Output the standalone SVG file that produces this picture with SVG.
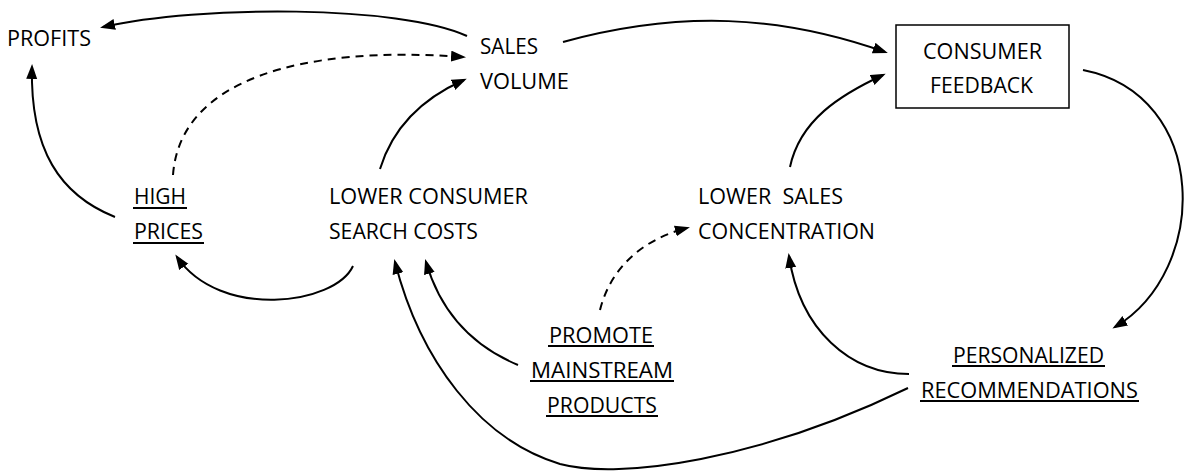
<svg xmlns="http://www.w3.org/2000/svg" width="1184" height="472" viewBox="0 0 1184 472">
<style>
text{font-family:"Open Sans","Liberation Sans",sans-serif;font-size:21.5px;fill:#000}
.c{fill:none;stroke:#000;stroke-width:2}
.d{stroke-dasharray:8,6}
.u{stroke:#000;stroke-width:1.8}
.box{fill:#fff;stroke:#000;stroke-width:1.5}
</style>
<defs>
<marker id="ah" markerUnits="userSpaceOnUse" markerWidth="16" markerHeight="12" refX="12" refY="5.5" orient="auto">
<path d="M0,0 L15,5.5 L0,11 z" fill="#000"/>
</marker>
</defs>
<rect width="1184" height="472" fill="#fff"/>
<g id="connectors">
<path class="c" d="M467,36 C400,5 200,5 103,27" marker-end="url(#ah)"/>
<path class="c" d="M115,217 C60,195 30,150 32,67" marker-end="url(#ah)"/>
<path class="c d" d="M173,175 C180,80 300,45 463,57" marker-end="url(#ah)"/>
<path class="c" d="M380,169 C395,120 430,95 464,80" marker-end="url(#ah)"/>
<path class="c" d="M563,42 C680,10 780,15 885,52" marker-end="url(#ah)"/>
<path class="c" d="M790,167 C800,120 840,95 883,75" marker-end="url(#ah)"/>
<path class="c" d="M1083,70 C1210,95 1210,270 1115,327" marker-end="url(#ah)"/>
<path class="c" d="M909,374 C850,374 800,330 789,256" marker-end="url(#ah)"/>
<path class="c" d="M908,388 C760,460 620,480 560,464 C480,440 420,360 395,262" marker-end="url(#ah)"/>
<path class="c" d="M518,365 C470,345 440,310 426,262" marker-end="url(#ah)"/>
<path class="c d" d="M600,310 C610,270 640,240 687,228" marker-end="url(#ah)"/>
<path class="c" d="M353,266 C335,305 220,320 177,257" marker-end="url(#ah)"/>
</g>
<g id="profits"><text x="7" y="46" textLength="84" lengthAdjust="spacingAndGlyphs">PROFITS</text></g>
<g id="sales-volume">
<text x="480" y="54" textLength="58" lengthAdjust="spacingAndGlyphs">SALES</text>
<text x="480" y="89" textLength="89" lengthAdjust="spacingAndGlyphs">VOLUME</text>
</g>
<g id="consumer-feedback">
<rect class="box" x="896" y="25" width="173" height="83"/>
<text x="923" y="59" textLength="119" lengthAdjust="spacingAndGlyphs">CONSUMER</text>
<text x="930" y="93" textLength="103" lengthAdjust="spacingAndGlyphs">FEEDBACK</text>
</g>
<g id="high-prices">
<text x="134" y="204" textLength="52" lengthAdjust="spacingAndGlyphs">HIGH</text>
<line class="u" x1="133" y1="208" x2="187" y2="208"/>
<text x="134" y="239" textLength="69" lengthAdjust="spacingAndGlyphs">PRICES</text>
<line class="u" x1="133" y1="243" x2="204" y2="243"/>
</g>
<g id="lower-consumer-search-costs">
<text x="329" y="204" textLength="199" lengthAdjust="spacingAndGlyphs">LOWER CONSUMER</text>
<text x="329" y="239" textLength="149" lengthAdjust="spacingAndGlyphs">SEARCH COSTS</text>
</g>
<g id="lower-sales-concentration">
<text x="698" y="204" textLength="145" lengthAdjust="spacingAndGlyphs" xml:space="preserve">LOWER  SALES</text>
<text x="698" y="239" textLength="177" lengthAdjust="spacingAndGlyphs">CONCENTRATION</text>
</g>
<g id="promote-mainstream-products">
<text x="549" y="343" textLength="104" lengthAdjust="spacingAndGlyphs">PROMOTE</text>
<line class="u" x1="548" y1="346" x2="654" y2="346"/>
<text x="531" y="378" textLength="142" lengthAdjust="spacingAndGlyphs">MAINSTREAM</text>
<line class="u" x1="530" y1="381" x2="674" y2="381"/>
<text x="547" y="413" textLength="110" lengthAdjust="spacingAndGlyphs">PRODUCTS</text>
<line class="u" x1="546" y1="416" x2="658" y2="416"/>
</g>
<g id="personalized-recommendations">
<text x="953" y="363" textLength="151" lengthAdjust="spacingAndGlyphs">PERSONALIZED</text>
<line class="u" x1="952" y1="366" x2="1105" y2="366"/>
<text x="921" y="398" textLength="217" lengthAdjust="spacingAndGlyphs">RECOMMENDATIONS</text>
<line class="u" x1="920" y1="401" x2="1139" y2="401"/>
</g>
</svg>
